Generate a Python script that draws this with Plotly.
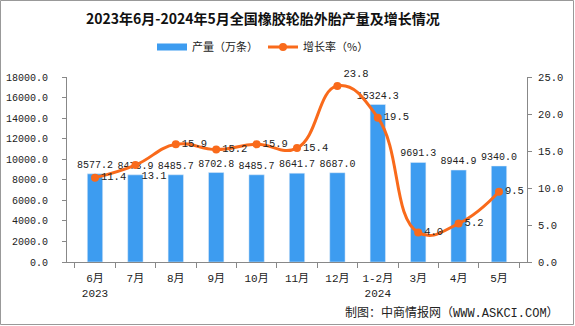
import plotly.graph_objects as go

categories = ["6月<br>2023", "7月", "8月", "9月", "10月", "11月", "12月", "1-2月<br>2024", "3月", "4月", "5月"]
output = [8577.2, 8478.9, 8485.7, 8702.8, 8485.7, 8641.7, 8687.0, 15324.3, 9691.3, 8944.9, 9340.0]
growth = [11.4, 13.1, 15.9, 15.2, 15.9, 15.4, 23.8, 19.5, 4.0, 5.2, 9.5]

FONT = "Liberation Mono, Noto Sans CJK SC"
CJK = "Noto Sans CJK SC"
BLUE = "#3D9CF0"
ORANGE = "#F96A1B"
L, R, T, B = 67, 48, 77, 64
W, H = 575, 326
pw, ph = W - L - R, H - T - B

fig = go.Figure()
# legend entry for the bars (wide flat rectangle as in the reference)
fig.add_trace(go.Scatter(
    x=[categories[0]], y=[None], name="产量（万条）", mode="lines",
    line=dict(color=BLUE, width=7), hoverinfo="skip",
))
fig.add_trace(go.Bar(
    x=categories, y=output, name="产量（万条）", showlegend=False,
    marker_color=BLUE,
    text=[f"{v:.1f}" for v in output], textposition="outside",
    constraintext="none",
    textfont=dict(size=10, color="#222", family=FONT),
    cliponaxis=False,
))
pos = ["middle right", "bottom right", "middle right", "middle right", "middle right",
       "middle right", "top right", "middle right", "middle right", "middle right", "middle right"]
fig.add_trace(go.Scatter(
    x=categories, y=growth, name="增长率（%）", yaxis="y2",
    mode="lines+markers+text",
    line=dict(color=ORANGE, width=3, shape="spline", smoothing=1.3),
    marker=dict(color=ORANGE, size=8),
    text=[f"{v:.1f}" for v in growth],
    textposition=pos,
    textfont=dict(size=10.5, color="#222", family=FONT),
    cliponaxis=False,
))

fig.update_layout(
    width=W, height=H,
    margin=dict(l=L, r=R, t=T, b=B, autoexpand=False),
    paper_bgcolor="white", plot_bgcolor="white",
    font=dict(family=FONT, size=11, color="#222"),
    legend=dict(orientation="h", x=(263 - L) / pw, xanchor="center", y=1 + 30 / ph, yanchor="middle",
                font=dict(size=11, family=CJK), itemwidth=30, bgcolor="rgba(0,0,0,0)"),
    bargap=0.62,
    showlegend=True,
    xaxis=dict(type="category", showline=True, linecolor="#888", ticks="outside",
               tickson="boundaries", ticklen=5, tickcolor="#888", showgrid=False,
               ticklabelstandoff=6, tickangle=0, automargin=False,
               tickfont=dict(size=11, family=FONT)),
    yaxis=dict(range=[0, 18000], dtick=2000, tickformat=".1f", showline=True, linecolor="#888",
               ticks="outside", ticklen=4, tickcolor="#888", showgrid=False, zeroline=False,
               ticklabelstandoff=12, automargin=False,
               tickfont=dict(size=10, family=FONT)),
    yaxis2=dict(range=[0, 25], dtick=5, tickformat=".1f", overlaying="y", side="right",
                showline=True, linecolor="#888", ticks="outside", ticklen=4, tickcolor="#888",
                showgrid=False, zeroline=False, ticklabelstandoff=4, automargin=False,
                tickfont=dict(size=10.5, family=FONT)),
)

fig.add_annotation(text="<b>2023年6月-2024年5月全国橡胶轮胎外胎产量及增长情况</b>",
                   xref="paper", yref="paper", x=(263 - L) / pw, y=1 + (T - 18) / ph,
                   xanchor="center", yanchor="middle", showarrow=False,
                   font=dict(size=14, family=CJK, color="#111"))

fig.add_annotation(text="制图：中商情报网（WWW.ASKCI.COM）", xref="paper", yref="paper",
                   x=(561 - L) / pw, y=-(313 - (T + ph)) / ph, xanchor="right", yanchor="middle",
                   showarrow=False, font=dict(size=12, family=FONT, color="#222"))

fig.add_shape(type="rect", xref="paper", yref="paper",
              x0=(0.5 - L) / pw, x1=(W - 1.5 - L) / pw,
              y0=-(H - 1.5 - T - ph) / ph, y1=1 + (T - 0.5) / ph,
              line=dict(color="#999", width=1))

fig.write_html("out.html")
